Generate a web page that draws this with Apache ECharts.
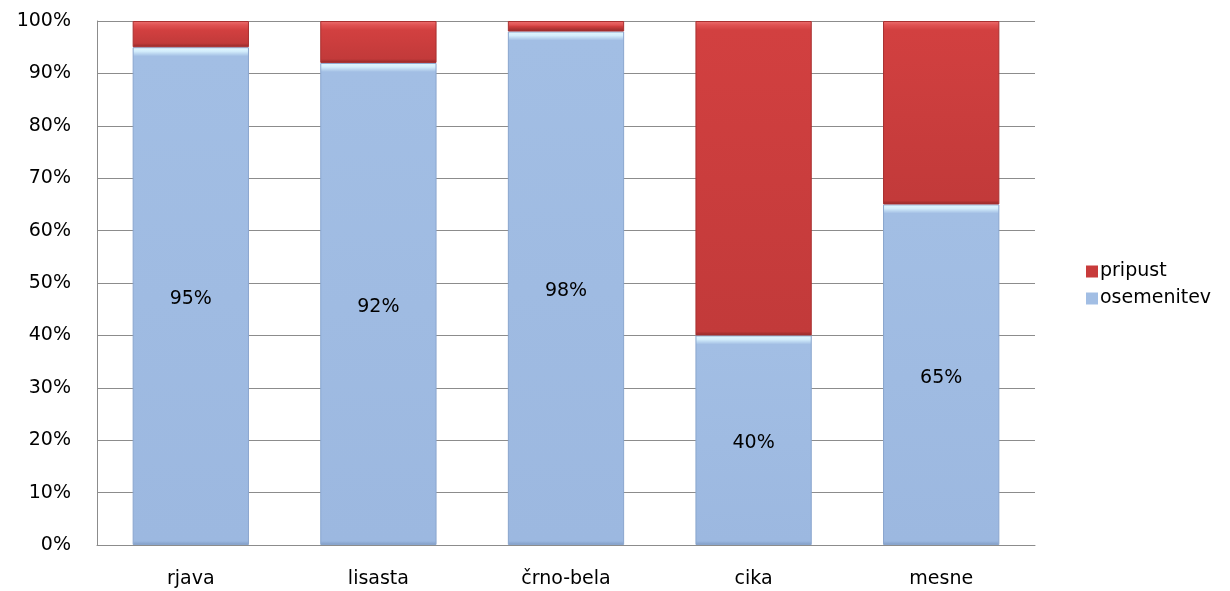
<!DOCTYPE html>
<html><head><meta charset="utf-8">
<script src="https://cdn.jsdelivr.net/npm/echarts@6/dist/echarts.min.js"></script>
<style>html,body{margin:0;padding:0;background:#fff}#c{width:1230px;height:591px}</style>
</head><body><div id="c"></div>
<script>
const categories = ['rjava', 'lisasta', 'črno-bela', 'cika', 'mesne'];
const osemenitev = [95, 92, 98, 40, 65];
const pripust = [5, 8, 2, 60, 35];
const yTicks = [0, 10, 20, 30, 40, 50, 60, 70, 80, 90, 100];

const font = '"DejaVu Sans", sans-serif';
const PLOT_H = 524;
function bevel(v, top, topMid, main, mainEnd, bottom) {
  const h = v / 100 * PLOT_H;
  const a = Math.min(0.45, 4 / h), b = Math.min(0.5, 9 / h), c = Math.max(b, 1 - 4 / h);
  return {type:'linear', x:0, y:0, x2:0, y2:1, colorStops:[
    {offset:0, color:top},{offset:a, color:topMid},{offset:b, color:main},
    {offset:c, color:mainEnd},{offset:1, color:bottom}]};
}
const blueData = osemenitev.map(v => ({value:v, itemStyle:{
  color: bevel(v, '#e4f8ff', '#d4eefc', '#a2bee4', '#9cb8e0', '#7f9bc4'),
  borderColor:'#8aa6ce', borderWidth:1}}));
const redData = pripust.map(v => ({value:v, itemStyle:{
  color: bevel(v, '#ee7070', '#e05252', '#d24040', '#c23a3a', '#902828'),
  borderColor:'#a83030', borderWidth:1}}));

const chart = echarts.init(document.getElementById('c'));
chart.setOption({
  animation:false,
  textStyle:{fontFamily:font},
  grid:{left:97, right:195, top:21, bottom:46},
  legend:{
    orient:'vertical', left:1081, top:257, itemWidth:12, itemHeight:12, itemGap:8,
    icon:'rect',
    textStyle:{fontSize:19, color:'#000', fontFamily:font, padding:[0,0,0,-3]},
    data:[{name:'pripust', itemStyle:{color:'#c83b3b'}},{name:'osemenitev', itemStyle:{color:'#a2bee4'}}]
  },
  xAxis:{
    type:'category', data:categories,
    axisLine:{lineStyle:{color:'#8c8c8c'}},
    axisTick:{show:false},
    axisLabel:{fontSize:19, color:'#000', margin:25}
  },
  yAxis:{
    type:'value', min:0, max:100, interval:10,
    axisLine:{show:true, lineStyle:{color:'#8c8c8c'}},
    axisTick:{show:false},
    splitLine:{lineStyle:{color:'#8c8c8c'}},
    axisLabel:{fontSize:19, color:'#000', margin:26, formatter: v => yTicks.includes(v) ? v + '%' : ''}
  },
  series:[
    {name:'osemenitev', type:'bar', stack:'a', data:blueData, barWidth:'62%',
     label:{show:true, position:'inside', formatter:'{c}%', fontSize:19, color:'#000', offset:[0,3]}},
    {name:'pripust', type:'bar', stack:'a', data:redData, barWidth:'62%'}
  ]
});
</script></body></html>
